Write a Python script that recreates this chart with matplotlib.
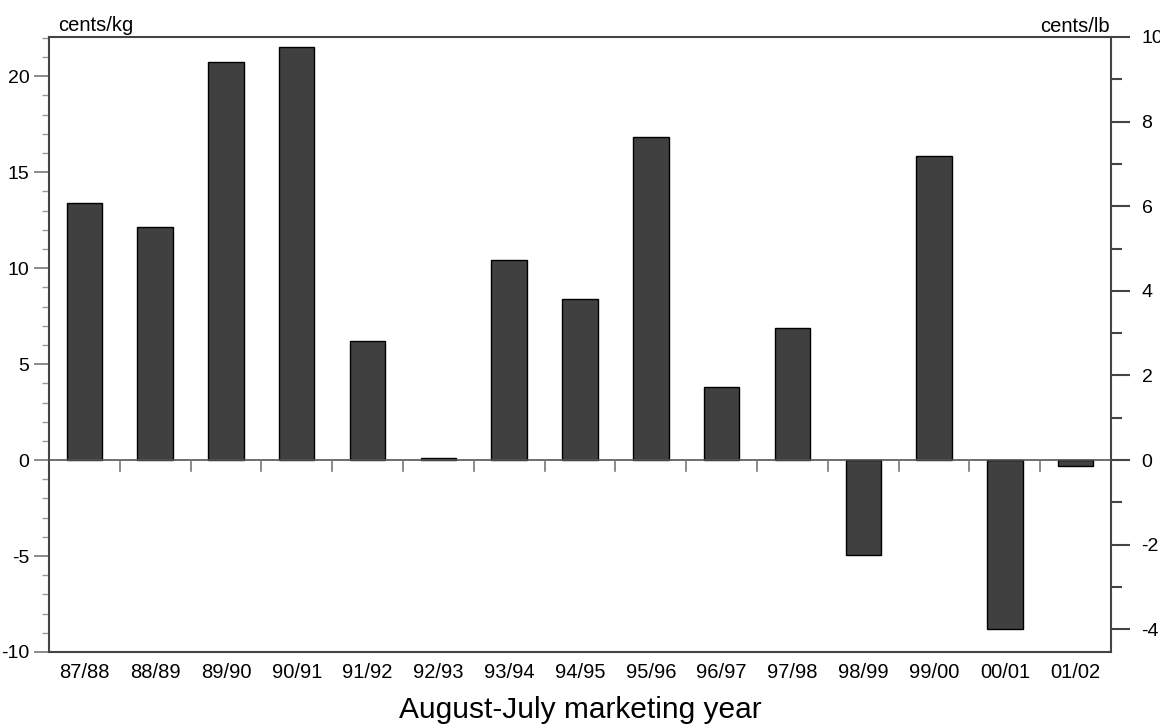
import matplotlib.pyplot as plt
from matplotlib.ticker import MultipleLocator

plt.rcParams['font.family'] = ['Liberation Sans', 'DejaVu Sans']
plt.rcParams['axes.unicode_minus'] = False

# Data (cents/kg)
years = ['87/88', '88/89', '89/90', '90/91', '91/92', '92/93', '93/94', '94/95',
         '95/96', '96/97', '97/98', '98/99', '99/00', '00/01', '01/02']
values = [13.4, 12.15, 20.75, 21.55, 6.2, 0.1, 10.4, 8.4,
          16.85, 3.8, 6.9, -4.95, 15.85, -8.8, -0.3]

KG_PER_LB = 2.20462
ymin, ymax = -10, 10 * KG_PER_LB

fig = plt.figure(figsize=(11.6, 7.28), dpi=100)
ax = fig.add_axes([0.0422, 0.1044, 0.9156, 0.8448])

x = list(range(len(years)))
ax.bar(x, values, width=0.5, color='#404040', edgecolor='black', linewidth=1, zorder=3)

ax.set_xlim(-0.5, len(years) - 0.5)
ax.set_ylim(ymin, ymax)

# zero line with boundary ticks pointing down
ax.axhline(0, color='#555555', linewidth=1.2, zorder=4)
for b in range(1, len(years)):
    ax.plot([b - 0.5, b - 0.5], [0, -0.58], color='#777777', linewidth=1.2, zorder=4)

ax.set_xticks(x)
ax.set_xticklabels(years, fontsize=14.5)
ax.tick_params(axis='x', length=0, pad=8)

ax.yaxis.set_major_locator(MultipleLocator(5))
ax.yaxis.set_minor_locator(MultipleLocator(1))
ax.tick_params(axis='y', which='major', length=11, width=1.2, color='#777777', labelsize=14, pad=3)
ax.tick_params(axis='y', which='minor', length=5, width=1, color='#999999')

for s in ax.spines.values():
    s.set_color('#444444')
    s.set_linewidth(1.5)

# right axis in cents/lb
ax2 = ax.twinx()
ax2.set_ylim(ymin / KG_PER_LB, ymax / KG_PER_LB)
ax2.yaxis.set_major_locator(MultipleLocator(2))
ax2.yaxis.set_minor_locator(MultipleLocator(1))
ax2.tick_params(axis='y', which='major', length=14, width=1.5, color='#444444', labelsize=14, pad=8)
ax2.tick_params(axis='y', which='minor', length=8, width=1.5, color='#444444')
for s in ax2.spines.values():
    s.set_visible(False)

fig.text(0.050, 0.952, 'cents/kg', fontsize=14.5, ha='left', va='bottom')
fig.text(0.957, 0.951, 'cents/lb', fontsize=14.5, ha='right', va='bottom')
ax.set_xlabel('August-July marketing year', fontsize=21.5, labelpad=10)

fig.savefig('out.png', dpi=100)
